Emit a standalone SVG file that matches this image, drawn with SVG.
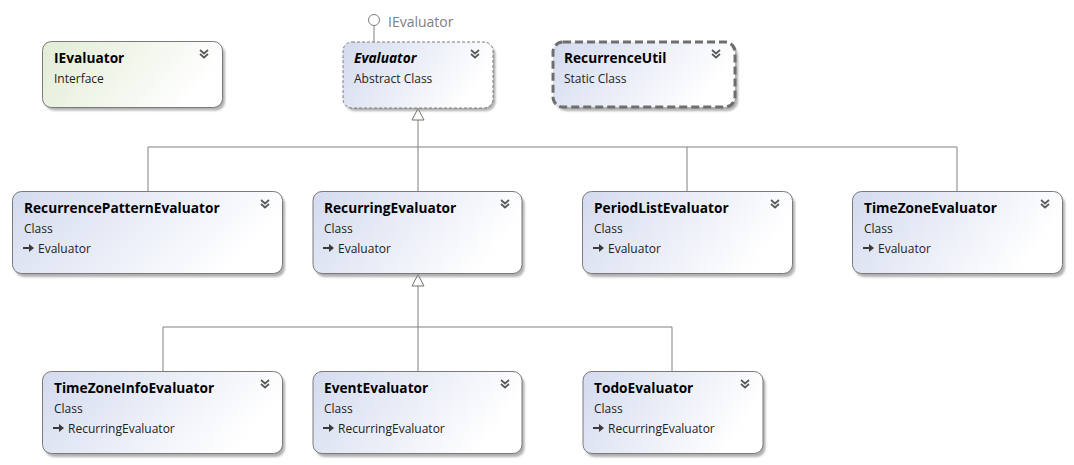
<svg xmlns="http://www.w3.org/2000/svg" width="1074" height="465" viewBox="0 0 1074 465">
<defs>
<linearGradient id="gc" x1="0" y1="0" x2="1" y2="0.3">
<stop offset="0" stop-color="#d4dbef"/><stop offset="1" stop-color="#ffffff"/>
</linearGradient>
<linearGradient id="gi" x1="0" y1="0" x2="1" y2="0.3">
<stop offset="0" stop-color="#e2ecd5"/><stop offset="1" stop-color="#ffffff"/>
</linearGradient>
<filter id="sh" x="-10%" y="-10%" width="130%" height="140%">
<feGaussianBlur stdDeviation="1.3"/>
</filter>
<g id="chev"><path d="M-4,0 L0,3.5 L4,0 M-4,4 L0,7.5 L4,4" fill="none" stroke="#5a5a5a" stroke-width="1.7"/></g>
<g id="inh"><path d="M-7,-1 H-1 V-4 L4,0 L-1,4 V1 H-7 Z" fill="#3a3a3a"/></g>
</defs>
<style>
.sh{fill:#909090;opacity:0.7;filter:url(#sh)}
.box{stroke:#7a7a7a;stroke-width:1}
.cls{fill:url(#gc)}
.ifc{fill:url(#gi)}
.abs{fill:url(#gc);stroke-dasharray:3,2}
.stat{fill:url(#gc);stroke:#6e6e6e;stroke-width:3;stroke-dasharray:8,4}
.t{font-family:"Open Sans","Noto Sans",sans-serif;font-size:13.7px;font-weight:bold;fill:#000}
.ti{font-style:italic}
.s{font-family:"Open Sans","Noto Sans",sans-serif;font-size:12px;fill:#222}
.lbl{font-family:"Open Sans","Noto Sans",sans-serif;font-size:14px;fill:#808080}
.ln{fill:none;stroke:#80807a;stroke-width:1}
</style>

<g id="connectors">
<path class="ln" d="M418,120 V147 M148,147 H957 M148,147 V192 M418,147 V192 M687,147 V192 M957,147 V192" />
<path d="M418,108.5 L424,120 L412,120 Z" fill="#fff" stroke="#707068" stroke-width="1"/>
<path class="ln" d="M418,286 V327 M163,327 H672 M163,327 V372 M418,327 V372 M672,327 V372" />
<path d="M418,274.5 L424,286 L412,286 Z" fill="#fff" stroke="#707068" stroke-width="1"/>
<path class="ln" d="M374,26 V42"/>
<circle cx="374" cy="20" r="5.5" fill="#fff" stroke="#80807a" stroke-width="1"/>
<text class="lbl" x="388" y="27">IEvaluator</text>
</g>

<g id="IEvaluator">
<rect class="sh" x="45" y="44.5" width="180" height="66" rx="9"/>
<rect class="box ifc" x="42.5" y="41.5" width="180" height="66" rx="9"/>
<text class="t" x="54" y="63">IEvaluator</text>
<text class="s" x="54" y="83">Interface</text>
<use href="#chev" x="204" y="50"/>
</g>

<g id="Evaluator">
<rect class="sh" x="345.5" y="45" width="150" height="66" rx="9"/>
<rect class="box abs" x="343" y="42" width="150" height="66" rx="9"/>
<text class="t ti" x="354" y="63">Evaluator</text>
<text class="s" x="354" y="83">Abstract Class</text>
<use href="#chev" x="475" y="50"/>
</g>

<g id="RecurrenceUtil">
<rect class="sh" x="556" y="45" width="182" height="66" rx="10"/>
<rect class="stat" x="553" y="42" width="182" height="65" rx="10"/>
<text class="t" x="564" y="63">RecurrenceUtil</text>
<text class="s" x="564" y="83">Static Class</text>
<use href="#chev" x="716" y="50"/>
</g>

<g id="RecurrencePatternEvaluator">
<rect class="sh" x="15" y="195" width="270" height="82" rx="9"/>
<rect class="box cls" x="12.5" y="191.5" width="270" height="82" rx="9"/>
<text class="t" x="24" y="213">RecurrencePatternEvaluator</text>
<text class="s" x="24" y="233">Class</text>
<use href="#inh" x="30" y="248"/>
<text class="s" x="38" y="253">Evaluator</text>
<use href="#chev" x="265" y="200"/>
</g>

<g id="RecurringEvaluator">
<rect class="sh" x="315.5" y="195" width="209" height="82" rx="9"/>
<rect class="box cls" x="313" y="191.5" width="209" height="82" rx="9"/>
<text class="t" x="324" y="213">RecurringEvaluator</text>
<text class="s" x="324" y="233">Class</text>
<use href="#inh" x="330" y="248"/>
<text class="s" x="338" y="253">Evaluator</text>
<use href="#chev" x="505" y="200"/>
</g>

<g id="PeriodListEvaluator">
<rect class="sh" x="585" y="195" width="210" height="82" rx="9"/>
<rect class="box cls" x="582.5" y="191.5" width="210" height="82" rx="9"/>
<text class="t" x="594" y="213">PeriodListEvaluator</text>
<text class="s" x="594" y="233">Class</text>
<use href="#inh" x="600" y="248"/>
<text class="s" x="608" y="253">Evaluator</text>
<use href="#chev" x="775" y="200"/>
</g>

<g id="TimeZoneEvaluator">
<rect class="sh" x="855" y="195" width="210" height="82" rx="9"/>
<rect class="box cls" x="852.5" y="191.5" width="210" height="82" rx="9"/>
<text class="t" x="864" y="213">TimeZoneEvaluator</text>
<text class="s" x="864" y="233">Class</text>
<use href="#inh" x="870" y="248"/>
<text class="s" x="878" y="253">Evaluator</text>
<use href="#chev" x="1045" y="200"/>
</g>

<g id="TimeZoneInfoEvaluator">
<rect class="sh" x="45" y="375" width="240" height="82" rx="9"/>
<rect class="box cls" x="42.5" y="371.5" width="240" height="82" rx="9"/>
<text class="t" x="54" y="393">TimeZoneInfoEvaluator</text>
<text class="s" x="54" y="413">Class</text>
<use href="#inh" x="60" y="428"/>
<text class="s" x="68" y="433">RecurringEvaluator</text>
<use href="#chev" x="265" y="380"/>
</g>

<g id="EventEvaluator">
<rect class="sh" x="315.5" y="375" width="209" height="82" rx="9"/>
<rect class="box cls" x="313" y="371.5" width="209" height="82" rx="9"/>
<text class="t" x="324" y="393">EventEvaluator</text>
<text class="s" x="324" y="413">Class</text>
<use href="#inh" x="330" y="428"/>
<text class="s" x="338" y="433">RecurringEvaluator</text>
<use href="#chev" x="505" y="380"/>
</g>

<g id="TodoEvaluator">
<rect class="sh" x="585.5" y="375" width="180" height="82" rx="9"/>
<rect class="box cls" x="583" y="371.5" width="180" height="82" rx="9"/>
<text class="t" x="594" y="393">TodoEvaluator</text>
<text class="s" x="594" y="413">Class</text>
<use href="#inh" x="600" y="428"/>
<text class="s" x="608" y="433">RecurringEvaluator</text>
<use href="#chev" x="745" y="380"/>
</g>
</svg>
